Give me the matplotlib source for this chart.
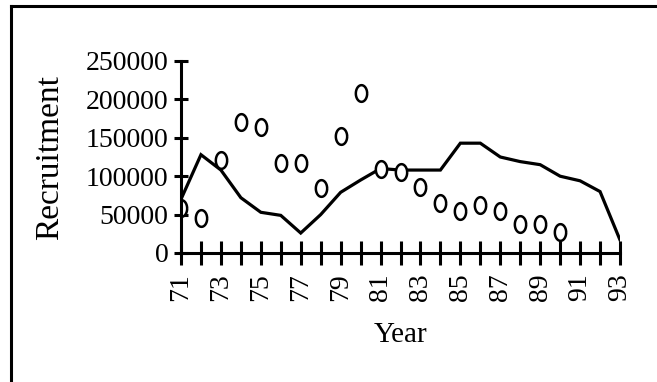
import numpy as np
from matplotlib import pyplot as plt
from matplotlib.lines import Line2D

plt.rcParams['font.family'] = ['Liberation Serif', 'DejaVu Serif']

# data
years = list(range(71, 94))
line_vals = [70000, 128000, 108000, 72000, 53000, 49000, 26000, 50000, 79000, 95000,
             110000, 108000, 108000, 108000, 143000, 143000, 125000, 119000, 115000,
             100000, 94000, 80000, 17000]
pt_years = list(range(71, 91))
pt_vals = [58000, 45000, 121000, 171000, 164000, 117000, 117000, 85000, 152000, 208000,
           109000, 105000, 86000, 65000, 55000, 62000, 55000, 38000, 38000, 27000]
yticks = [0, 50000, 100000, 150000, 200000, 250000]

fig = plt.figure(figsize=(6.57, 3.82), dpi=100)
ax = fig.add_axes([181/657, 1-253/382, (620-181)/657, (253-61)/382])

ax.plot(years, line_vals, color='black', lw=2.3, solid_joinstyle='miter')

# tall "0"-shaped open markers
t = np.linspace(0, 2*np.pi, 40)
oval = list(zip(0.34*np.cos(t), 0.5*np.sin(t)))
ax.plot(pt_years, pt_vals, ls='none', marker=oval, ms=12, mfc='white',
        mec='black', mew=1.8)

ax.set_xlim(71, 93)
ax.set_ylim(0, 250000)
ax.set_xticks(years)
ax.set_xticklabels([str(y) if y % 2 == 1 else '' for y in years], rotation=90)
ax.set_yticks(yticks)
ax.set_yticklabels([str(v) for v in yticks])

for s in ['top', 'right']:
    ax.spines[s].set_visible(False)
for s in ['left', 'bottom']:
    ax.spines[s].set_linewidth(2.2)
ax.tick_params(axis='x', direction='inout', length=17, width=2.2, pad=6, labelsize=20)
ax.tick_params(axis='y', direction='inout', length=10, width=2.2, pad=4, labelsize=20)

ax.set_xlabel('Year', fontsize=21, labelpad=15)
ax.set_ylabel('Recruitment', fontsize=24, labelpad=15)

# frame lines along top and left of the picture
fig.add_artist(Line2D([11/657, 1], [1-6/382, 1-6/382], color='black', lw=2.2,
                      transform=fig.transFigure))
fig.add_artist(Line2D([11/657, 11/657], [0, 1-6/382], color='black', lw=2.2,
                      transform=fig.transFigure))

fig.savefig('out.png', dpi=100)
